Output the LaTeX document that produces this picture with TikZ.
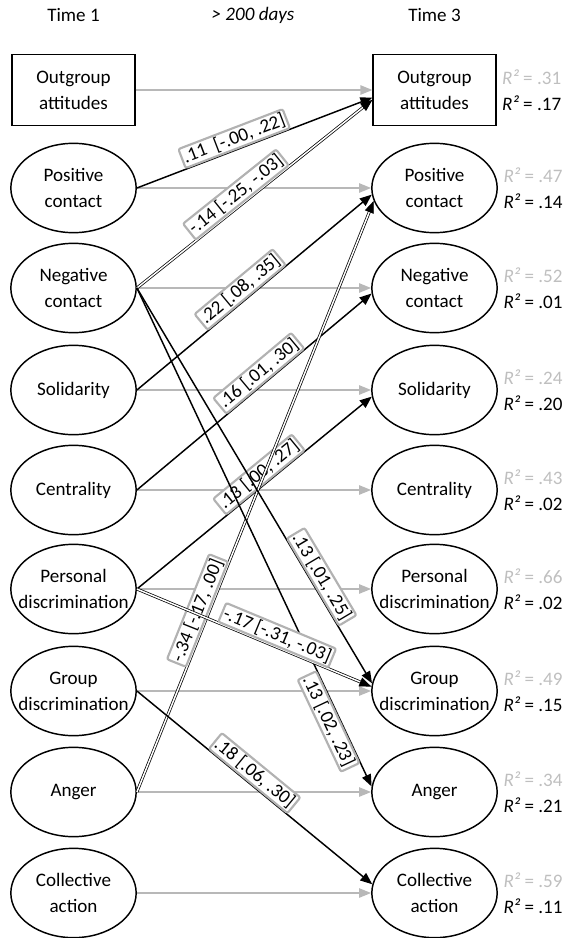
\documentclass[tikz,border=0pt]{standalone}
\usepackage{fontspec}
\setmainfont{Carlito}
\usetikzlibrary{arrows.meta,shapes.geometric}
\tikzset{
  txt/.style={font=\fontsize{14.3}{19.5}\selectfont},
  varbox/.style={txt, draw, line width=1.1pt, minimum width=92pt, minimum height=53pt, align=center, inner sep=0pt},
  varell/.style={txt, draw, ellipse, line width=1.1pt, minimum width=94pt, minimum height=67pt, align=center, inner xsep=-9pt, inner ysep=0pt},
  stab/.style={draw=black!28, line width=1.1pt, -{Triangle[length=9pt,width=7pt]}},
  cross/.style={line width=1.1pt, -{Triangle[length=9pt,width=7pt]}},
  crossneg/.style={double, double distance=1.1pt, line width=0.55pt, -{Triangle[length=9pt,width=7pt]}},
  coef/.style={txt, sloped, draw=black!30, line width=1.6pt, fill=white, rounded corners=1.5pt, inner sep=1.5pt},
  rsq/.style={txt, align=left, anchor=west, inner sep=1pt},
}
\begin{document}
\begin{tikzpicture}[x=0.75pt,y=-0.75pt]
\useasboundingbox (0,0) rectangle (574,938);
% headers
\node[txt] (t1) at (73.5,15) {Time 1};
\node[txt] (gap) at (253,15) {\textit{> 200 days}};
\node[txt] (t3) at (434.5,15) {Time 3};
% variables at both waves
\node[varbox] (OA1) at (73.5,90) {Outgroup\\attitudes};
\node[varbox] (OA3) at (434.5,90) {Outgroup\\attitudes};
\draw[stab] (OA1) -- (OA3);
\foreach\n/\t/\y in {PC/Positive\\contact/188,NC/Negative\\contact/288,SO/Solidarity/390,CE/Centrality/490,PD/Personal\\discrimination/589,GD/Group\\discrimination/691,AN/Anger/792,CA/Collective\\action/893} {
  \node[varell] (\n1) at (73.5,\y) {\t};
  \node[varell] (\n3) at (434.5,\y) {\t};
  \draw[stab] (\n1) -- (\n3);
}
% explained variance
\foreach\n/\a/\b in {OA/.31/.17,PC/.47/.14,NC/.52/.01,SO/.24/.20,CE/.43/.02,PD/.66/.02,GD/.49/.15,AN/.34/.21,CA/.59/.11} {
  \node[rsq] (\n R) at ([xshift=3pt]\n3.east) {\textcolor{black!25}{\textit{R²} = \a}\\\textit{R²} = \b};
}
% cross-lagged paths
\draw[cross] (PC1.east) -- node[coef, above, pos=.43] {.11\ \ [-.00, .22]} (OA3.187);
\draw[crossneg] (NC1.east) -- node[coef, above, pos=.45] {-.14 [-.25, -.03]} (OA3.189);
\draw[cross] (SO1.east) -- node[coef, above, pos=.47] {.22 [.08, .35]} (PC3.186);
\draw[cross] (CE1.east) -- node[coef, above, pos=.55] {.16 [.01, .30]} (NC3.185);
\draw[cross] (PD1.east) -- node[coef, above, pos=.55] {.13 [.00, .27]} (SO3.186);
\draw[crossneg] (AN1.east) -- node[coef, above, pos=.3] {-.34 [-.17, .00]} (PC3.192);
\draw[cross] (NC1.east) -- node[coef, above, pos=.745] {.13 [.01, .25]} (GD3.173);
\draw[cross] (NC1.east) -- node[coef, below, pos=.86] {.13 [.02, .23]} (AN3.175);
\draw[crossneg] (PD1.east) -- node[coef, above, pos=.58] {-.17 [-.31, -.03]} (GD3.176);
\draw[cross] (GD1.east) -- node[coef, above, pos=.47] {.18 [.06, .30]} (CA3.172);
\end{tikzpicture}
\end{document}
